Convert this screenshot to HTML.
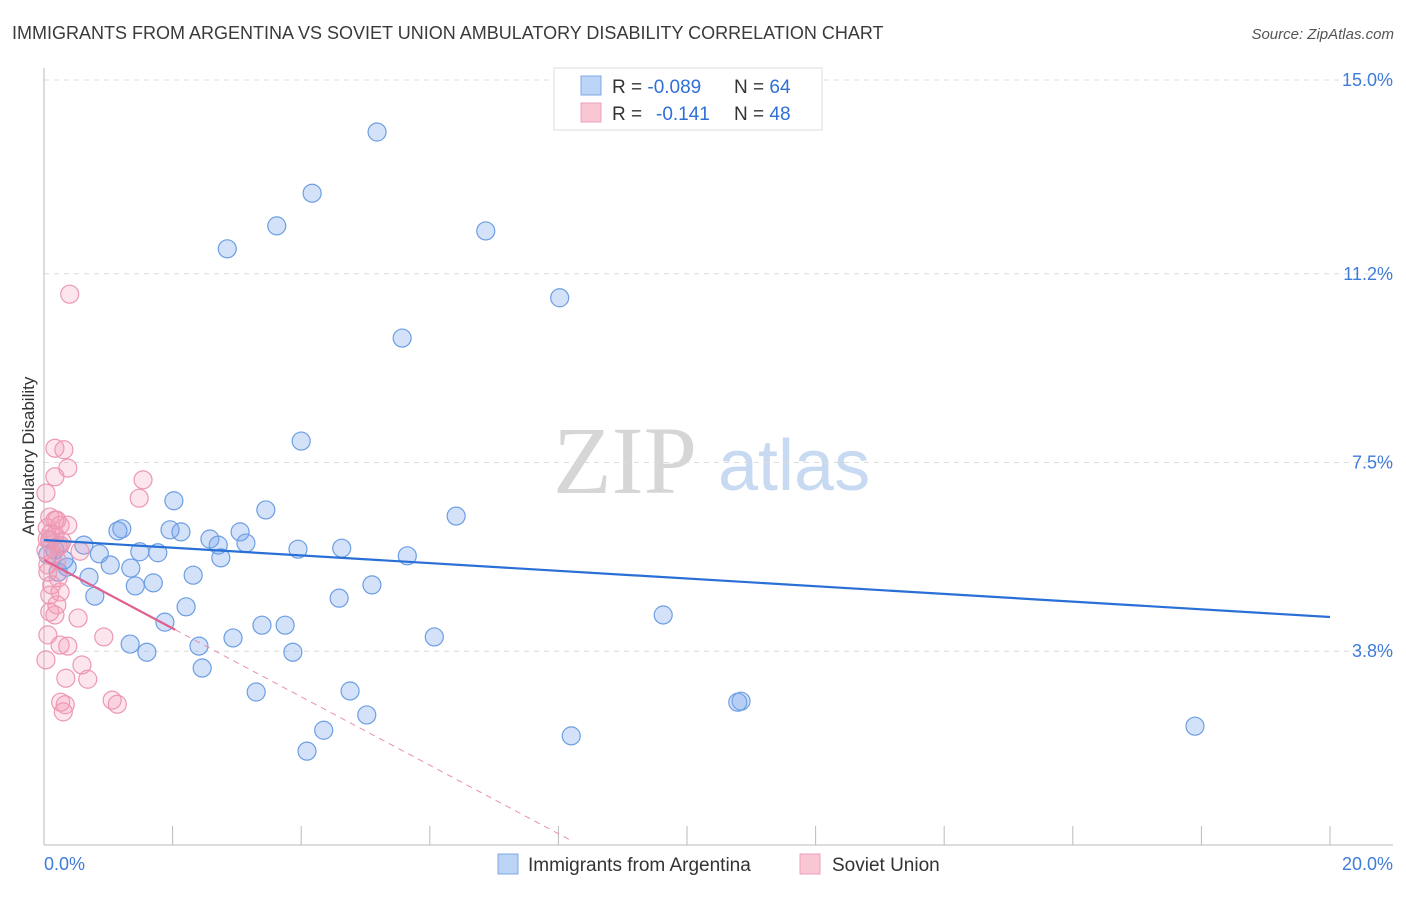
<!DOCTYPE html>
<html><head><meta charset="utf-8"><style>
body{margin:0;background:#fff;font-family:"Liberation Sans",sans-serif;}
</style></head><body>
<svg id="chart" width="1406" height="892" xmlns="http://www.w3.org/2000/svg" font-family="Liberation Sans, sans-serif">
<text x="12" y="39" font-size="18" fill="#3a3a3a">IMMIGRANTS FROM ARGENTINA VS SOVIET UNION AMBULATORY DISABILITY CORRELATION CHART</text>
<text x="1394" y="39" font-size="15" fill="#555" text-anchor="end" font-style="italic">Source: ZipAtlas.com</text>
<g>
<text x="553" y="493" font-family="Liberation Serif, serif" font-size="96" fill="#d6d6d6">ZIP</text>
<text x="718" y="490" font-size="72" fill="#c8daf2">atlas</text>
</g>
<g id="grid"></g>
<g id="axes"></g>
<g id="marks"></g>
<text transform="translate(34,456) rotate(-90)" font-size="17" fill="#333" text-anchor="middle">Ambulatory Disability</text>
<g>
<rect x="554" y="68" width="268" height="62" fill="#fff" stroke="#ddd"/>
<rect x="581" y="76" width="20" height="19" fill="#bcd4f6" stroke="#7ea8e4"/>
<rect x="581" y="103" width="20" height="19" fill="#f9c6d4" stroke="#eea0b8"/>
<text x="612" y="93" font-size="19" fill="#333">R = <tspan fill="#2f6fd6">-0.089</tspan><tspan x="734">N = </tspan><tspan fill="#2f6fd6">64</tspan></text>
<text x="612" y="120" font-size="19" fill="#333">R = <tspan x="656" fill="#2f6fd6">-0.141</tspan><tspan x="734">N = </tspan><tspan fill="#2f6fd6">48</tspan></text>
</g>
<g>
<rect x="498" y="854" width="20" height="20" fill="#bcd4f6" stroke="#7ea8e4"/>
<text x="528" y="871" font-size="19" fill="#333">Immigrants from Argentina</text>
<rect x="800" y="854" width="20" height="20" fill="#f9c6d4" stroke="#eea0b8"/>
<text x="832" y="871" font-size="19" fill="#333">Soviet Union</text>
</g>
</svg>
<script>
const yTicks=[3.8,7.5,11.2,15.0];
const yTickLabels=["3.8%","7.5%","11.2%","15.0%"];
const xTicks=[0,2,4,6,8,10,12,14,16,18,20];
const blueX=[5.18,4.17,3.62,2.85,6.87,8.02,5.57,4.00,2.02,3.45,6.41,1.21,1.15,1.96,2.13,3.05,2.58,3.14,2.71,3.95,4.63,5.65,1.49,1.77,0.86,2.75,0.62,1.03,0.36,1.35,2.32,1.70,1.42,0.70,5.10,0.22,0.79,4.59,2.21,1.88,9.63,3.39,3.75,2.94,6.07,1.34,2.41,1.60,3.87,2.46,3.30,4.76,10.84,10.79,5.02,4.35,8.20,17.90,4.09,0.09,0.17,0.25,0.06,0.31];
const blueY=[13.98,12.78,12.14,11.69,12.04,10.73,9.94,7.92,6.75,6.57,6.45,6.20,6.16,6.18,6.14,6.14,6.00,5.92,5.88,5.80,5.82,5.67,5.75,5.73,5.71,5.63,5.88,5.49,5.45,5.43,5.29,5.14,5.08,5.25,5.10,5.35,4.88,4.84,4.67,4.37,4.51,4.31,4.31,4.06,4.08,3.94,3.90,3.78,3.78,3.47,3.00,3.02,2.82,2.80,2.55,2.25,2.14,2.33,1.84,5.98,5.78,5.88,5.69,5.59];
const pinkX=[0.17,0.31,0.17,0.37,0.03,1.54,1.48,0.40,0.09,0.20,0.25,0.05,0.37,0.17,0.09,0.25,0.03,0.20,0.06,0.56,0.09,0.25,0.20,0.17,0.09,0.53,0.06,0.25,0.37,0.93,0.59,0.34,0.68,0.26,0.33,0.30,1.06,1.14,0.03,0.12,0.22,0.06,0.17,0.10,0.28,0.14,0.05,0.22];
const pinkY=[7.78,7.75,7.22,7.39,6.90,7.16,6.80,10.80,6.43,6.37,6.27,6.22,6.27,6.08,5.98,5.88,5.78,5.59,5.49,5.76,4.90,4.96,4.71,4.51,4.57,4.45,4.12,3.92,3.90,4.08,3.53,3.27,3.25,2.80,2.75,2.61,2.84,2.76,3.63,5.10,5.24,5.35,6.37,6.10,5.95,5.70,6.00,5.85];
const blueTrend=[5.98,4.47];
const pinkTrend=[5.59,-0.671];
const pinkSolidEnd=2.04, pinkDashEnd=8.18;

const NS="http://www.w3.org/2000/svg";
const X0=44,X1=1330,Y0=845,PPY=51.0;
const xs=v=>X0+v*(X1-X0)/20;
const ys=v=>Y0-v*PPY;
function mk(tag,attrs,parent){const e=document.createElementNS(NS,tag);for(const k in attrs)e.setAttribute(k,attrs[k]);parent.appendChild(e);return e;}
const grid=document.getElementById('grid'),axes=document.getElementById('axes'),marks=document.getElementById('marks');
yTicks.forEach((t,i)=>{
 const l=mk('line',{x1:X0,x2:1393,y1:ys(t),y2:ys(t),stroke:'#dcdcdc','stroke-dasharray':'5,5'},grid);
 
 
 const tx=mk('text',{x:1393,y:ys(t)+6,'font-size':18,fill:'#3f7bd9','text-anchor':'end'},axes);
 tx.textContent=yTickLabels[i];
 
 
});
const ax=mk('line',{x1:X0,x2:1393,y1:Y0,y2:Y0,stroke:'#bbb'},axes);


const ay=mk('line',{x1:X0,x2:X0,y1:68,y2:Y0,stroke:'#bbb'},axes);


xTicks.forEach(t=>{
 const l=mk('line',{x1:xs(t),x2:xs(t),y1:826,y2:Y0,stroke:'#bbb'},axes);
 
 
});
const xl0=mk('text',{x:44,y:870,'font-size':18,fill:'#3f7bd9'},axes);xl0.textContent='0.0%';


const xl1=mk('text',{x:1393,y:870,'font-size':18,fill:'#3f7bd9','text-anchor':'end'},axes);xl1.textContent='20.0%';



blueX.forEach((x,i)=>{
 const c=mk('circle',{cx:xs(x),cy:ys(blueY[i]),r:9,fill:'rgba(120,165,235,0.32)',stroke:'#6c9ee3','stroke-width':1.2},marks);
 
 
});
pinkX.forEach((x,i)=>{
 const c=mk('circle',{cx:xs(x),cy:ys(pinkY[i]),r:9,fill:'rgba(245,150,180,0.25)',stroke:'#ec98b2','stroke-width':1.2},marks);
 
 
});
const bt=mk('line',{x1:xs(0),y1:ys(blueTrend[0]),x2:xs(20),y2:ys(blueTrend[1]),stroke:'#2a6fd6','stroke-width':2.2},marks);


const pf=x=>pinkTrend[0]+pinkTrend[1]*x;
const ps=mk('line',{x1:xs(0),y1:ys(pf(0)),x2:xs(pinkSolidEnd),y2:ys(pf(pinkSolidEnd)),stroke:'#e0608e','stroke-width':2.2},marks);


const pd=mk('line',{x1:xs(pinkSolidEnd),y1:ys(pf(pinkSolidEnd)),x2:xs(pinkDashEnd),y2:ys(pf(pinkDashEnd)),stroke:'#e890aa','stroke-width':1,'stroke-dasharray':'6,5'},marks);


</script>
</body></html>
